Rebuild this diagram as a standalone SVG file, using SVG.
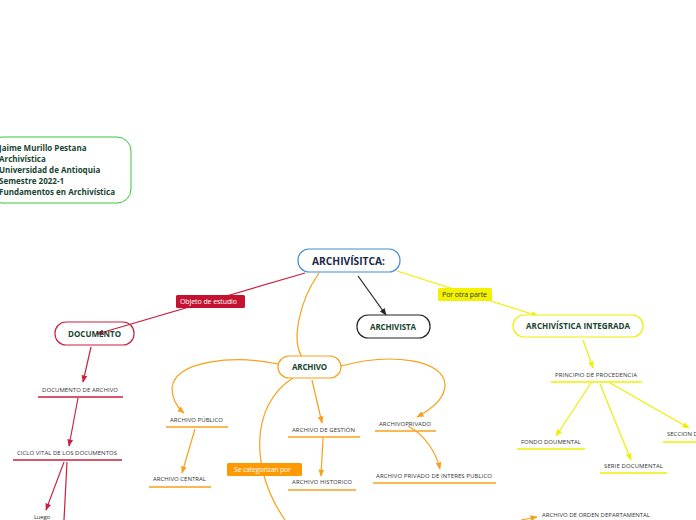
<svg xmlns="http://www.w3.org/2000/svg" width="696" height="520" viewBox="0 0 696 520">
<style>
.b{font-family:"Open Sans","Liberation Sans",sans-serif;font-weight:bold;fill:#17452f}
.s{font-family:"Open Sans","Liberation Sans",sans-serif;font-size:6px;fill:#333}
.lab{font-family:"Open Sans","Liberation Sans",sans-serif;font-size:7px}
.red{stroke:#c8203f;fill:none;stroke-width:1.2}
.org{stroke:#f7a11a;fill:none;stroke-width:1.2}
.yel{stroke:#eef000;fill:none;stroke-width:1.2}
.blk{stroke:#222;fill:none;stroke-width:1.2}
.ur{stroke:#c8203f;stroke-width:1.6}
.uo{stroke:#f7a11a;stroke-width:1.6}
.uy{stroke:#eef000;stroke-width:1.6}
</style>
<defs>
<marker id="ar" viewBox="0 0 10 10" refX="9" refY="5" markerWidth="6" markerHeight="6" orient="auto"><path d="M0,1 L10,5 L0,9 z" fill="#c8203f"/></marker>
<marker id="ao" viewBox="0 0 10 10" refX="9" refY="5" markerWidth="6" markerHeight="6" orient="auto"><path d="M0,1 L10,5 L0,9 z" fill="#f7a11a"/></marker>
<marker id="ay" viewBox="0 0 10 10" refX="9" refY="5" markerWidth="6" markerHeight="6" orient="auto"><path d="M0,1 L10,5 L0,9 z" fill="#eef000"/></marker>
<marker id="ak" viewBox="0 0 10 10" refX="9" refY="5" markerWidth="6" markerHeight="6" orient="auto"><path d="M0,1 L10,5 L0,9 z" fill="#222"/></marker>
</defs>
<rect width="696" height="520" fill="#fff"/>
<g id="connectors">
<path class="red" d="M305,273 L97,334" marker-end="url(#ar)"/>
<path class="red" d="M91,347 L83,382" marker-end="url(#ar)"/>
<path class="red" d="M78,398 L69,446" marker-end="url(#ar)"/>
<path class="red" d="M64,462 L46,510" marker-end="url(#ar)"/>
<path class="red" d="M67,462 L64,520"/>
<path class="org" d="M319,273 C300,300 288,345 306,362"/>
<path class="blk" d="M358,276 L386,315" marker-end="url(#ak)"/>
<path class="yel" d="M397,271 L538,316" marker-end="url(#ay)"/>
<path class="yel" d="M583,340 L593,368" marker-end="url(#ay)"/>
<path class="yel" d="M591,383 L556,436" marker-end="url(#ay)"/>
<path class="yel" d="M600,384 L631,460" marker-end="url(#ay)"/>
<path class="yel" d="M610,383 L689,428" marker-end="url(#ay)"/>
<path class="org" d="M278,364 C235,355 175,360 172,388 C172,400 178,408 184,413" marker-end="url(#ao)"/>
<path class="org" d="M195,429 L182,473" marker-end="url(#ao)"/>
<path class="org" d="M312,380 L322,423" marker-end="url(#ao)"/>
<path class="org" d="M323,438 L321,476" marker-end="url(#ao)"/>
<path class="org" d="M293,378 C250,405 250,470 285,520"/>
<path class="org" d="M341,366 C392,352 445,360 445,385 C445,400 430,410 417,417" marker-end="url(#ao)"/>
<path class="org" d="M408,426 C425,435 436,452 440,469" marker-end="url(#ao)"/>
<path class="org" d="M521,520 L537,517" marker-end="url(#ao)"/>
<rect x="176" y="295" width="69" height="13" rx="1.5" fill="#c41230"/>
<text class="lab" x="180" y="304" fill="#fff" textLength="57">Objeto de estudio</text>
<rect x="438" y="288" width="54" height="13" rx="1.5" fill="#f2f200"/>
<text class="lab" x="442" y="297" fill="#333" textLength="45">Por otra parte</text>
<rect x="227" y="463" width="75" height="13" rx="1.5" fill="#ff9900"/>
<text class="lab" x="234" y="472" fill="#fff" textLength="57">Se categorizan por</text>
</g>
<g id="info">
<rect x="-12" y="137" width="143" height="66" rx="14" fill="#fff" stroke="#36c93a" stroke-width="1"/>
<text class="b" font-size="8" x="-1" y="151">Jaime Murillo Pestana</text>
<text class="b" font-size="8" x="-1" y="162">Archivística</text>
<text class="b" font-size="8" x="-1" y="173">Universidad de Antioquia</text>
<text class="b" font-size="8" x="-1" y="184">Semestre 2022-1</text>
<text class="b" font-size="8" x="-1" y="195">Fundamentos en Archivística</text>
</g>
<g id="archivisitca">
<rect x="298" y="249" width="102" height="23" rx="11" fill="#fff" stroke="#3d8fd1" stroke-width="1.2"/>
<text class="b" font-size="10.5" x="312" y="265" textLength="73" lengthAdjust="spacingAndGlyphs" style="fill:#1a2a4a">ARCHIVÍSITCA:</text>
</g>
<g id="documento">
<rect x="55" y="322" width="79" height="23" rx="11" fill="none" stroke="#c8203f" stroke-width="1.2"/>
<text class="b" font-size="8" x="68" y="337" textLength="53">DOCUMENTO</text>
</g>
<g id="archivista">
<rect x="357" y="315" width="73" height="23" rx="11" fill="#fff" stroke="#222" stroke-width="1.2"/>
<text class="b" font-size="8" x="370" y="330" textLength="46">ARCHIVISTA</text>
</g>
<g id="archivistica-integrada">
<rect x="513" y="315" width="130" height="22" rx="11" fill="#fff" stroke="#eef000" stroke-width="1.2"/>
<text class="b" font-size="8" x="526" y="329" textLength="104">ARCHIVÍSTICA INTEGRADA</text>
</g>
<g id="archivo">
<rect x="278" y="356" width="63" height="22" rx="11" fill="#fff" stroke="#f7a11a" stroke-width="1.2"/>
<text class="b" font-size="8" x="292" y="370" textLength="35">ARCHIVO</text>
</g>
<g id="documento-de-archivo">
<text class="s" x="42" y="392" textLength="76">DOCUMENTO DE ARCHIVO</text>
<line class="ur" x1="38" y1="397" x2="123" y2="397"/>
</g>
<g id="ciclo-vital">
<text class="s" x="17" y="455" textLength="100">CICLO VITAL DE LOS DOCUMENTOS</text>
<line class="ur" x1="13" y1="460" x2="122" y2="460"/>
</g>
<g id="luego">
<text class="s" x="34" y="519" font-size="5.5" textLength="16">Luego</text>
</g>
<g id="archivo-publico">
<text class="s" x="170" y="422" textLength="53">ARCHIVO PÚBLICO</text>
<line class="uo" x1="166" y1="427" x2="228" y2="427"/>
</g>
<g id="archivo-central">
<text class="s" x="153" y="481" textLength="53">ARCHIVO CENTRAL</text>
<line class="uo" x1="149" y1="487" x2="211" y2="487"/>
</g>
<g id="archivo-gestion">
<text class="s" x="292" y="432" textLength="63">ARCHIVO DE GESTIÓN</text>
<line class="uo" x1="288" y1="437" x2="360" y2="437"/>
</g>
<g id="archivo-historico">
<text class="s" x="292" y="484" textLength="60">ARCHIVO HISTORICO</text>
<line class="uo" x1="288" y1="490" x2="356" y2="490"/>
</g>
<g id="archivo-privado">
<text class="s" x="379" y="426" textLength="52">ARCHIVOPRIVADO</text>
<line class="uo" x1="375" y1="431" x2="436" y2="431"/>
</g>
<g id="archivo-privado-interes">
<text class="s" x="376" y="478" textLength="116">ARCHIVO PRIVADO DE INTERES PUBLICO</text>
<line class="uo" x1="373" y1="483" x2="496" y2="483"/>
</g>
<g id="archivo-orden-departamental">
<text class="s" x="542" y="517" textLength="108">ARCHIVO DE ORDEN DEPARTAMENTAL</text>
</g>
<g id="principio-procedencia">
<text class="s" x="555" y="377" textLength="82">PRINCIPIO DE PROCEDENCIA</text>
<line class="uy" x1="551" y1="382" x2="642" y2="382"/>
</g>
<g id="fondo-documental">
<text class="s" x="521" y="444" textLength="60">FONDO DOUMENTAL</text>
<line class="uy" x1="517" y1="449" x2="585" y2="449"/>
</g>
<g id="serie-documental">
<text class="s" x="604" y="468" textLength="59">SERIE DOCUMENTAL</text>
<line class="uy" x1="600" y1="473" x2="667" y2="473"/>
</g>
<g id="seccion-documental">
<text class="s" x="667" y="436">SECCION DOCUMENTAL</text>
<line class="uy" x1="663" y1="442" x2="696" y2="442"/>
</g>
</svg>
